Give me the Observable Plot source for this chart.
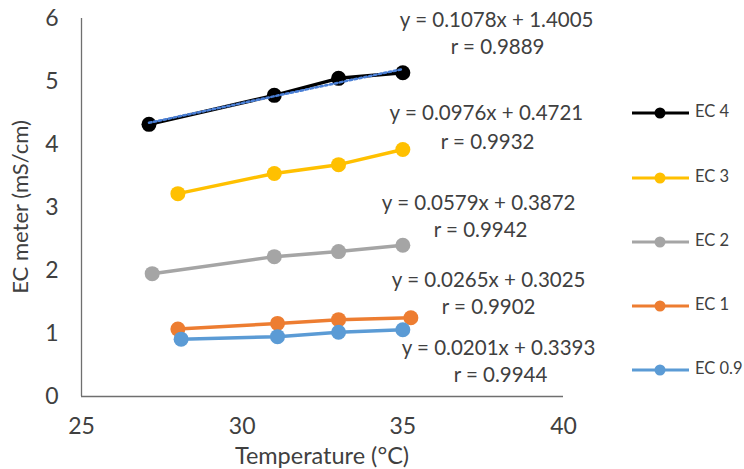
<!DOCTYPE html>
<html>
<head>
<meta charset="utf-8">
<script src="https://cdn.jsdelivr.net/npm/d3@7"></script>
<script src="https://cdn.jsdelivr.net/npm/@observablehq/plot@0.6"></script>
<style>
  html, body { margin: 0; padding: 0; background: #fff; }
  #chart { width: 744px; height: 469px; }
</style>
</head>
<body>
<div id="chart"></div>
<script>
// ---- data ----
const seriesNames = ["EC 4", "EC 3", "EC 2", "EC 1", "EC 0.9"];
const seriesColors = ["#000000", "#FFC000", "#A5A5A5", "#ED7D31", "#5B9BD5"];
const ec4Temp = [27.1, 31, 33, 35];
const ec4Val  = [4.32, 4.78, 5.05, 5.14];
const ec3Temp = [28, 31, 33, 35];
const ec3Val  = [3.22, 3.54, 3.68, 3.92];
const ec2Temp = [27.2, 31, 33, 35];
const ec2Val  = [1.95, 2.22, 2.30, 2.40];
const ec1Temp = [28, 31.1, 33, 35.25];
const ec1Val  = [1.07, 1.16, 1.22, 1.25];
const ec09Temp = [28.1, 31.1, 33, 35];
const ec09Val  = [0.91, 0.95, 1.02, 1.06];
const xTicks = [25, 30, 35, 40];
const yTicks = [0, 1, 2, 3, 4, 5, 6];
const equations = ["y = 0.1078x + 1.4005", "y = 0.0976x + 0.4721", "y = 0.0579x + 0.3872", "y = 0.0265x + 0.3025", "y = 0.0201x + 0.3393"];
const rValues = ["r = 0.9889", "r = 0.9932", "r = 0.9942", "r = 0.9902", "r = 0.9944"];
// label anchor positions (data units)
const eqX = [37.92, 37.6, 37.36, 37.67, 37.98];
const eqY = [5.97, 4.49, 3.06, 1.84, 0.76];
const rX  = [37.95, 37.64, 37.42, 37.67, 38.04];
const rY  = [5.54, 4.03, 2.63, 1.41, 0.33];

const temps = [ec4Temp, ec3Temp, ec2Temp, ec1Temp, ec09Temp];
const vals = [ec4Val, ec3Val, ec2Val, ec1Val, ec09Val];
const rows = [];
seriesNames.forEach((s, i) => temps[i].forEach((t, j) => rows.push({series: s, temp: t, ec: vals[i][j]})));
const ec4Rows = rows.filter(d => d.series === "EC 4");
const labels = [];
seriesNames.forEach((s, i) => {
  labels.push({x: eqX[i], y: eqY[i], text: equations[i]});
  labels.push({x: rX[i], y: rY[i], text: rValues[i]});
});

const textColor = "#404040";
const font = "Lato, 'Open Sans', sans-serif";

const marks = [
  Plot.ruleX([25], {y1: 0, y2: 6, stroke: "#6f6f6f", strokeWidth: 1.3}),
  Plot.ruleY([0], {x1: 25, x2: 40, stroke: "#6f6f6f", strokeWidth: 1.3}),
  Plot.axisX({ticks: xTicks, tickSize: 0, tickPadding: 21, fontSize: 23, label: null, color: textColor, tickFormat: d => String(d)}),
  Plot.axisY({ticks: yTicks, tickSize: 0, tickPadding: 23, fontSize: 23, label: null, color: textColor, tickFormat: d => String(d)})
];
seriesNames.forEach((s, i) => {
  const d = rows.filter(r => r.series === s);
  marks.push(Plot.line(d, {x: "temp", y: "ec", stroke: seriesColors[i], strokeWidth: 3.5}));
  marks.push(Plot.dot(d, {x: "temp", y: "ec", fill: seriesColors[i], r: 7.5}));
  if (i === 0) {
    marks.push(Plot.linearRegressionY(ec4Rows, {x: "temp", y: "ec", stroke: "#4a7fd6", strokeWidth: 2.5, strokeDasharray: "2.5,2.5", ci: 0}));
  }
});
marks.push(Plot.text(labels, {x: "x", y: "y", text: "text", fontSize: 20.5, fill: textColor, textAnchor: "middle"}));

const chart = Plot.plot({
  width: 744,
  height: 469,
  marginLeft: 81,
  marginRight: 181,
  marginTop: 18,
  marginBottom: 73,
  x: {domain: [25, 40]},
  y: {domain: [0, 6]},
  style: {fontFamily: font, background: "#fff", overflow: "visible"},
  marks
});

const svg = d3.select(chart);
// axis titles
svg.append("text")
  .attr("transform", "translate(22,207) rotate(-90)")
  .attr("text-anchor", "middle").attr("dominant-baseline", "middle")
  .attr("font-family", font).attr("font-size", 22).attr("fill", textColor)
  .text("EC meter (mS/cm)");
svg.append("text")
  .attr("x", 322).attr("y", 458)
  .attr("text-anchor", "middle").attr("dominant-baseline", "middle")
  .attr("font-family", font).attr("font-size", 23.5).attr("fill", textColor)
  .text("Temperature (\u00B0C)");
// legend
const legendY = [113, 178, 242, 306, 370];
const lg = svg.append("g");
seriesNames.forEach((s, i) => {
  const g = lg.append("g").attr("transform", `translate(0,${legendY[i]})`);
  g.append("line").attr("x1", 632).attr("x2", 689).attr("y1", 0).attr("y2", 0)
    .attr("stroke", seriesColors[i]).attr("stroke-width", 3);
  g.append("circle").attr("cx", 660).attr("cy", 0).attr("r", 5.5).attr("fill", seriesColors[i]);
  g.append("text").attr("x", 695).attr("y", 0).attr("dominant-baseline", "middle")
    .attr("text-anchor", "start")
    .attr("font-family", font).attr("font-size", 16.5).attr("fill", textColor).text(s);
});

document.getElementById("chart").appendChild(chart);
</script>
</body>
</html>
